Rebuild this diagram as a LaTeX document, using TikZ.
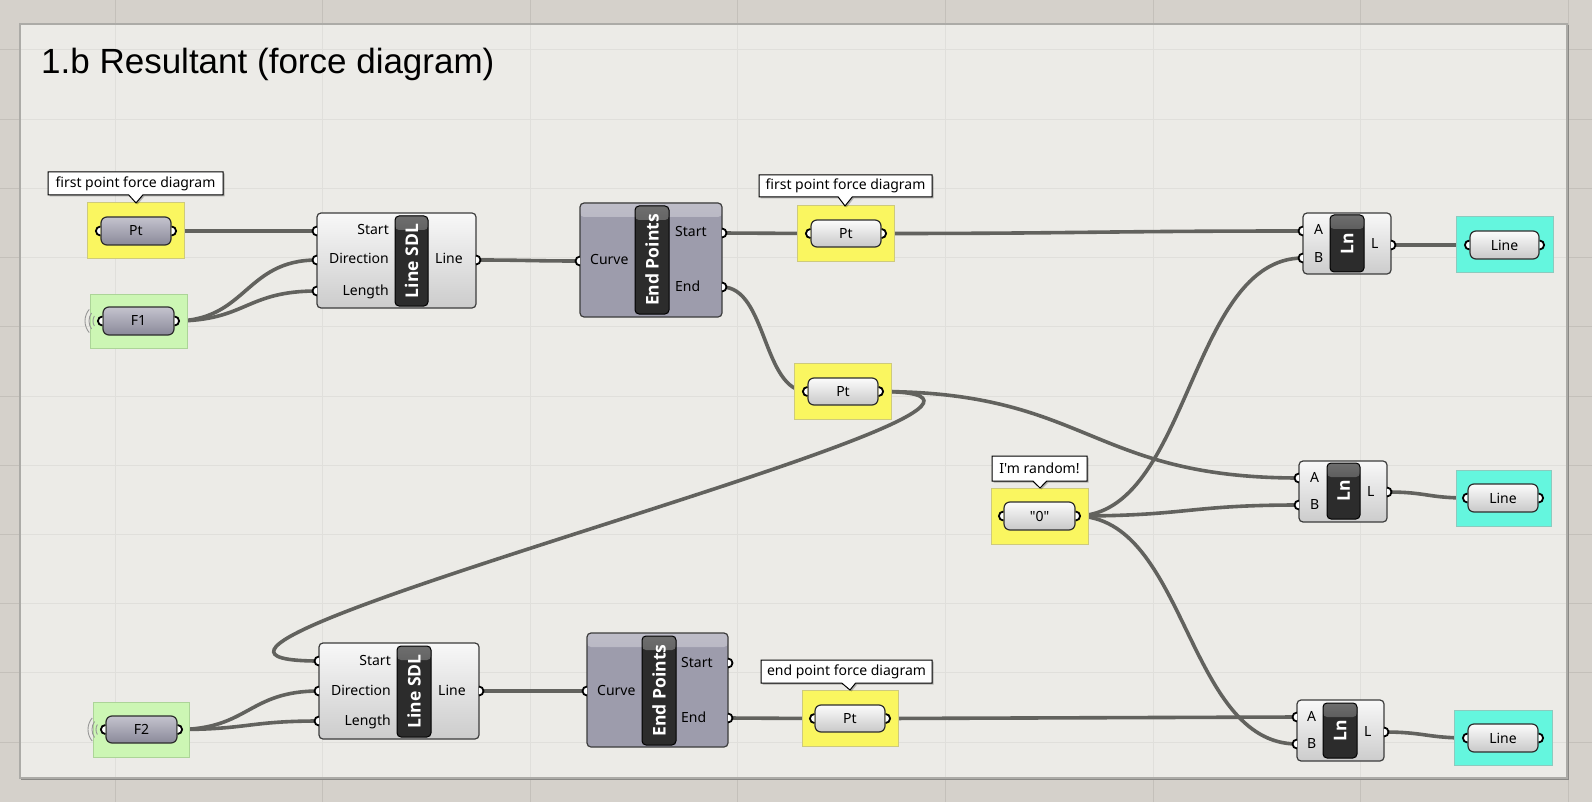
\documentclass[tikz,border=0pt]{standalone}
\usepackage{fontspec}
\setmainfont{Noto Sans}[Ligatures=TeXOff]
\newfontfamily\titlefont{Liberation Sans}
\newfontfamily\tagfont{Open Sans}[Ligatures=TeXOff]
\usetikzlibrary{shapes.callouts,shadows}

\definecolor{canvasbg}{RGB}{213,209,203}
\definecolor{canvasgrid}{RGB}{196,192,186}
\definecolor{groupfill}{RGB}{236,235,231}
\definecolor{groupgrid}{RGB}{224,223,219}
\definecolor{groupline}{RGB}{172,171,167}
\definecolor{wirecol}{RGB}{98,98,94}
\definecolor{panY}{RGB}{250,246,96}
\definecolor{panYb}{RGB}{206,202,125}
\definecolor{panG}{RGB}{204,246,180}
\definecolor{panGb}{RGB}{172,212,152}
\definecolor{panC}{RGB}{100,246,222}
\definecolor{panCb}{RGB}{140,202,190}
\definecolor{capDtop}{RGB}{196,195,206}
\definecolor{capDbot}{RGB}{138,137,153}
\definecolor{capLtop}{RGB}{252,252,252}
\definecolor{capLbot}{RGB}{200,200,200}
\definecolor{capline}{RGB}{45,45,45}
\definecolor{bodyLtop}{RGB}{248,248,248}
\definecolor{bodyLbot}{RGB}{204,204,204}
\definecolor{bodyD}{RGB}{157,156,172}
\definecolor{bodyDtop}{RGB}{190,189,200}
\definecolor{bodyline}{RGB}{60,60,60}
\definecolor{tagD}{RGB}{44,44,44}
\definecolor{tagT}{RGB}{110,110,110}
\definecolor{ringcol}{RGB}{150,150,150}

\pgfdeclarelayer{canvas}
\pgfdeclarelayer{wires}
\pgfsetlayers{canvas,wires,main}

\tikzset{
  lbl/.style={font=\fontsize{14}{16}\selectfont, inner sep=0pt, text height=10.5pt, text depth=2.5pt},
  capsule/.style={font=\fontsize{14}{16}\selectfont, rounded corners=6pt, draw=capline, line width=1.2pt, inner sep=0pt},
  capD/.style={capsule, top color=capDtop, bottom color=capDbot},
  capL/.style={capsule, top color=capLtop, bottom color=capLbot},
  gpanel/.style={line width=1pt, inner sep=0pt},
  panY/.style={gpanel, fill=panY, draw=panYb},
  panG/.style={gpanel, fill=panG, draw=panGb},
  panC/.style={gpanel, fill=panC, draw=panCb},
  gbody/.style={rounded corners=4pt, draw=bodyline, line width=1.2pt, inner sep=0pt},
  bodyL/.style={gbody, top color=bodyLtop, bottom color=bodyLbot},
  bodyD/.style={gbody, fill=bodyD, path picture={\fill[top color=bodyDtop, bottom color=bodyD]
      (path picture bounding box.north west) rectangle ([yshift=-14pt]path picture bounding box.north east);}},
  gtag/.style={rounded corners=4pt, fill=tagD, draw=black, line width=1pt, inner sep=0pt, text=white,
      font=\tagfont\bfseries\fontsize{17.5}{18}\selectfont,
      path picture={\fill[top color=tagT, bottom color=tagD]
      (path picture bounding box.north west) rectangle ([yshift=-14pt]path picture bounding box.north east);}},
  tooltip/.style={rectangle callout, fill=white, draw=black, line width=1pt, callout pointer width=14pt,
      inner sep=0pt, font=\fontsize{14}{16}\selectfont,
      drop shadow={opacity=0.25, shadow xshift=1.5pt, shadow yshift=-1.5pt, fill=black}},
  wire/.style={draw=wirecol, line width=3.6pt},
  grip/.style={draw=black, fill=white, line width=1.8pt},
  gring/.style={draw=ringcol, line width=0.9pt},
}

% node by its corners: style, name, x1, y1, x2, y2, text
\newcommand\gnode[7]{\node[#1, minimum width={#5-#3}, minimum height={#6-#4}] (#2) at ({(#3+#5)/2},{(#4+#6)/2}) {#7};}
% half-round grips on the left / right side of a point
\newcommand\gripL[1]{\filldraw[grip] ([yshift=4.5pt]#1) arc[start angle=90, end angle=270, radius=4.5pt];}
\newcommand\gripR[1]{\filldraw[grip] ([yshift=4.5pt]#1) arc[start angle=90, end angle=-90, radius=4.5pt];}
% sender rings left of a slider grip
\newcommand\rings[1]{%
  \draw[gring] (#1) ++(150:10pt) arc[start angle=150, end angle=210, radius=10pt];
  \draw[gring] (#1) ++(145:14pt) arc[start angle=145, end angle=215, radius=14pt];
  \draw[gring] (#1) ++(140:18pt) arc[start angle=140, end angle=220, radius=18pt];}

\begin{document}
\begin{tikzpicture}[x=1pt, y=-1pt]
\useasboundingbox (0,0) rectangle (1592,802);

% ---- canvas and group ----
\begin{pgfonlayer}{canvas}
  \fill[canvasbg] (0,0) rectangle (1592,802);
  \foreach \gx in {115,322.6,530.2,737.8,945.4,1153,1360.6,1568.2}
    \draw[canvasgrid, line width=1pt] (\gx,0) -- (\gx,802);
  \foreach \gy in {50,119.2,188.4,257.6,326.8,396,465.2,534.4,603.6,672.8,742}
    \draw[canvasgrid, line width=1pt] (0,\gy) -- (1592,\gy);
  \fill[groupfill] (20,24) rectangle (1567,778);
  \begin{scope}
    \clip (20,24) rectangle (1567,778);
    \foreach \gx in {115,322.6,530.2,737.8,945.4,1153,1360.6}
      \draw[groupgrid, line width=1pt] (\gx,0) -- (\gx,802);
    \foreach \gy in {50,119.2,188.4,257.6,326.8,396,465.2,534.4,603.6,672.8,742}
      \draw[groupgrid, line width=1pt] (0,\gy) -- (1592,\gy);
  \end{scope}
  \draw[groupline, line width=1.2pt] (20,24) rectangle (1567,778);
  \draw[groupline!80!black, line width=1pt] (21,779) -- (1568,779) -- (1568,25);
\end{pgfonlayer}

\node[anchor=base west, inner sep=0pt, font=\titlefont\fontsize{35}{40}\selectfont] (title) at (41,74) {1.b Resultant (force diagram)};

% ---- first force: point, slider, Line SDL, End Points ----
\gnode{panY}{p1box}{87}{203}{184}{259}{}
\gnode{capD}{p1}{101}{217}{171}{245}{Pt}
\gripL{p1.west} \gripR{p1.east}
\node[tooltip, callout absolute pointer={(136,203)}, minimum width=175, minimum height=23] (tt1) at (135.5,183.5) {first point force diagram};

\gnode{panG}{f1box}{90}{294}{187}{348}{}
\coordinate (f1-in) at (103,321);
\rings{f1-in}
\gnode{capD}{f1}{103}{307}{174}{335}{F1}
\gripL{f1.west} \gripR{f1.east}

\gnode{bodyL}{s1}{317}{213}{476}{308}{}
\gnode{gtag}{s1tag}{395}{216}{428}{306}{\rotatebox{90}{Line SDL}}
\node[lbl, anchor=east] (s1t1) at (389,231) {Start};
\node[lbl, anchor=east] (s1t2) at (389,260) {Direction};
\node[lbl, anchor=east] (s1t3) at (389,291) {Length};
\node[lbl, anchor=west] (s1t4) at (435,260) {Line};
\coordinate (s1-start) at (317,231);
\coordinate (s1-dir) at (317,260);
\coordinate (s1-len) at (317,291);
\coordinate (s1-line) at (476,260);
\gripL{s1-start} \gripL{s1-dir} \gripL{s1-len} \gripR{s1-line}

\gnode{bodyD}{e1}{580}{203}{722}{317}{}
\gnode{gtag}{e1tag}{635}{206}{669}{314}{\rotatebox{90}{End Points}}
\node[lbl, anchor=west] (e1t1) at (590,261) {Curve};
\node[lbl, anchor=west] (e1t2) at (675,233) {Start};
\node[lbl, anchor=west] (e1t3) at (675,287) {End};
\coordinate (e1-crv) at (580,261);
\coordinate (e1-start) at (722,233);
\coordinate (e1-end) at (722,287);
\gripL{e1-crv} \gripR{e1-start} \gripR{e1-end}

\gnode{panY}{p2box}{797}{206}{894}{262}{}
\gnode{capL}{p2}{811}{220}{881}{247}{Pt}
\gripL{p2.west} \gripR{p2.east}
\node[tooltip, callout absolute pointer={(845,206)}, minimum width=173, minimum height=22] (tt2) at (845.5,186) {first point force diagram};

\gnode{panY}{p3box}{794}{363}{891}{419}{}
\gnode{capL}{p3}{808}{378}{878}{405}{Pt}
\gripL{p3.west} \gripR{p3.east}

% ---- random index ----
\gnode{panY}{p0box}{991}{488}{1088}{544}{}
\gnode{capL}{p0}{1004}{502}{1075}{530}{"0"}
\gripL{p0.west} \gripR{p0.east}
\node[tooltip, callout absolute pointer={(1040,488)}, minimum width=95, minimum height=25] (tt3) at (1039.5,468.5) {I'm random!};

% ---- lines ----
\gnode{bodyL}{ln1}{1303}{213}{1391}{274}{}
\gnode{gtag}{ln1tag}{1330}{215}{1364}{272}{\rotatebox{90}{Ln}}
\node[lbl, anchor=west] (ln1t1) at (1314,231) {A};
\node[lbl, anchor=west] (ln1t2) at (1314,258) {B};
\node[lbl, anchor=west] (ln1t3) at (1371,245) {L};
\coordinate (ln1-a) at (1303,231);
\coordinate (ln1-b) at (1303,258);
\coordinate (ln1-l) at (1391,245);
\gripL{ln1-a} \gripL{ln1-b} \gripR{ln1-l}

\gnode{panC}{q1box}{1456}{217}{1553}{273}{}
\gnode{capL}{q1}{1470}{231}{1539}{259}{Line}
\gripL{q1.west} \gripR{q1.east}

\gnode{bodyL}{ln2}{1299}{461}{1387}{522}{}
\gnode{gtag}{ln2tag}{1327}{463}{1360}{519}{\rotatebox{90}{Ln}}
\node[lbl, anchor=west] (ln2t1) at (1310,478) {A};
\node[lbl, anchor=west] (ln2t2) at (1310,505) {B};
\node[lbl, anchor=west] (ln2t3) at (1367,492) {L};
\coordinate (ln2-a) at (1299,478);
\coordinate (ln2-b) at (1299,505);
\coordinate (ln2-l) at (1387,492);
\gripL{ln2-a} \gripL{ln2-b} \gripR{ln2-l}

\gnode{panC}{q2box}{1456}{470}{1551}{526}{}
\gnode{capL}{q2}{1468}{484}{1538}{512}{Line}
\gripL{q2.west} \gripR{q2.east}

\gnode{bodyL}{ln3}{1297}{700}{1384}{761}{}
\gnode{gtag}{ln3tag}{1323}{703}{1357}{758}{\rotatebox{90}{Ln}}
\node[lbl, anchor=west] (ln3t1) at (1307,717) {A};
\node[lbl, anchor=west] (ln3t2) at (1307,744) {B};
\node[lbl, anchor=west] (ln3t3) at (1364,732) {L};
\coordinate (ln3-a) at (1297,717);
\coordinate (ln3-b) at (1297,744);
\coordinate (ln3-l) at (1384,732);
\gripL{ln3-a} \gripL{ln3-b} \gripR{ln3-l}

\gnode{panC}{q3box}{1454}{710}{1552}{765}{}
\gnode{capL}{q3}{1468}{724}{1538}{752}{Line}
\gripL{q3.west} \gripR{q3.east}

% ---- second force ----
\gnode{panG}{f2box}{93}{702}{189}{757}{}
\coordinate (f2-in) at (106,729.5);
\rings{f2-in}
\gnode{capD}{f2}{106}{716}{177}{743}{F2}
\gripL{f2.west} \gripR{f2.east}

\gnode{bodyL}{s2}{319}{643}{479}{739}{}
\gnode{gtag}{s2tag}{397}{646}{431}{737}{\rotatebox{90}{Line SDL}}
\node[lbl, anchor=east] (s2t1) at (391,661) {Start};
\node[lbl, anchor=east] (s2t2) at (391,691) {Direction};
\node[lbl, anchor=east] (s2t3) at (391,721) {Length};
\node[lbl, anchor=west] (s2t4) at (438,691) {Line};
\coordinate (s2-start) at (319,661);
\coordinate (s2-dir) at (319,691);
\coordinate (s2-len) at (319,721);
\coordinate (s2-line) at (479,691);
\gripL{s2-start} \gripL{s2-dir} \gripL{s2-len} \gripR{s2-line}

\gnode{bodyD}{e2}{587}{633}{728}{747}{}
\gnode{gtag}{e2tag}{642}{636}{676}{745}{\rotatebox{90}{End Points}}
\node[lbl, anchor=west] (e2t1) at (597,691) {Curve};
\node[lbl, anchor=west] (e2t2) at (681,663) {Start};
\node[lbl, anchor=west] (e2t3) at (681,718) {End};
\coordinate (e2-crv) at (587,691);
\coordinate (e2-start) at (728,663);
\coordinate (e2-end) at (728,718);
\gripL{e2-crv} \gripR{e2-start} \gripR{e2-end}

\gnode{panY}{p4box}{802}{690}{898}{746}{}
\gnode{capL}{p4}{815}{705}{885}{732}{Pt}
\gripL{p4.west} \gripR{p4.east}
\node[tooltip, callout absolute pointer={(850,690)}, minimum width=171, minimum height=23] (tt4) at (846.5,671.5) {end point force diagram};

% ---- wires ----
\begin{pgfonlayer}{wires}
  \draw[wire] (p1.east) .. controls +(70,0) and +(-70,0) .. (s1-start);
  \draw[wire] (f1.east) .. controls +(72,0) and +(-72,0) .. (s1-dir);
  \draw[wire] (f1.east) .. controls +(72,0) and +(-72,0) .. (s1-len);
  \draw[wire] (s1-line) .. controls +(50,0) and +(-50,0) .. (e1-crv);
  \draw[wire] (e1-start) .. controls +(45,0) and +(-45,0) .. (p2.west);
  \draw[wire] (e1-end) .. controls +(45,0) and +(-45,0) .. (p3.west);
  \draw[wire] (p2.east) .. controls +(200,0) and +(-200,0) .. (ln1-a);
  \draw[wire] (p0.east) .. controls +(114,0) and +(-114,0) .. (ln1-b);
  \draw[wire] (p3.east) .. controls +(210,0) and +(-210,0) .. (ln2-a);
  \draw[wire] (p0.east) .. controls +(112,0) and +(-112,0) .. (ln2-b);
  \draw[wire] (p0.east) .. controls +(111,0) and +(-111,0) .. (ln3-b);
  \draw[wire] (p3.east) .. controls +(280,0) and +(-280,0) .. (s2-start);
  \draw[wire] (f2.east) .. controls +(71,0) and +(-71,0) .. (s2-dir);
  \draw[wire] (f2.east) .. controls +(71,0) and +(-71,0) .. (s2-len);
  \draw[wire] (s2-line) .. controls +(54,0) and +(-54,0) .. (e2-crv);
  \draw[wire] (e2-end) .. controls +(43,0) and +(-43,0) .. (p4.west);
  \draw[wire] (p4.east) .. controls +(206,0) and +(-206,0) .. (ln3-a);
  \draw[wire] (ln1-l) .. controls +(40,0) and +(-40,0) .. (q1.west);
  \draw[wire] (ln2-l) .. controls +(40,0) and +(-40,0) .. (q2.west);
  \draw[wire] (ln3-l) .. controls +(40,0) and +(-40,0) .. (q3.west);
\end{pgfonlayer}
\end{tikzpicture}
\end{document}
